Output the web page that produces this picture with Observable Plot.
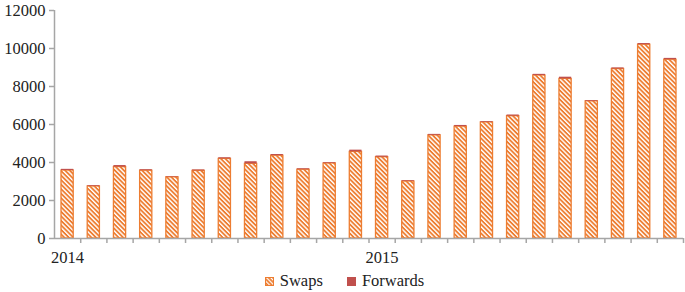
<!DOCTYPE html>
<html>
<head>
<meta charset="utf-8">
<script src="https://cdn.jsdelivr.net/npm/d3@7"></script>
<script src="https://cdn.jsdelivr.net/npm/@observablehq/plot@0.6"></script>
<style>
  body { margin: 0; background: #fff; }
  #chart { width: 685px; }
  .legend { display: flex; justify-content: center; align-items: center; font-family: "Liberation Serif", "Times New Roman", serif; font-size: 16.5px; color: #222; height: 22px; margin-top: 0px; padding-left: 4px; }
  .item { display: flex; align-items: center; margin: 0 12px; }
  .sw { width: 9px; height: 9px; margin-right: 6px; }
</style>
</head>
<body>
<div id="chart"></div>
<script>
const months = ["2014-01","2014-02","2014-03","2014-04","2014-05","2014-06","2014-07","2014-08","2014-09","2014-10","2014-11","2014-12",
                "2015-01","2015-02","2015-03","2015-04","2015-05","2015-06","2015-07","2015-08","2015-09","2015-10","2015-11","2015-12"];
const swaps = [3580, 2740, 3760, 3570, 3220, 3560, 4190, 3930, 4360, 3620, 3950, 4560,
               4280, 3000, 5430, 5890, 6110, 6440, 8580, 8400, 7220, 8920, 10200, 9410];
const forwards = [60, 40, 80, 50, 30, 50, 60, 110, 60, 50, 40, 90,
                  60, 40, 50, 60, 40, 60, 60, 90, 40, 60, 60, 70];
const yearLabels = ["2014", "2015"];
const yTicks = [0, 2000, 4000, 6000, 8000, 10000, 12000];

const orange = "#ED7D31";
const red = "#C0504D";
const axisGray = "#a6a6a6";

const table = months.map((m, i) => ({month: m, i, swaps: swaps[i], forwards: forwards[i]}));
const yearTable = yearLabels.map(y => ({label: y, i: months.indexOf(y + "-01")}));
const boundaries = d3.range(1, months.length + 1);

const chart = Plot.plot({
  width: 685,
  height: 270,
  marginLeft: 54,
  marginRight: 2,
  marginTop: 10,
  marginBottom: 32,
  style: {fontFamily: "'Liberation Serif', 'Times New Roman', serif", fontSize: "16.5px", color: "#222", background: "#fff"},
  x: {domain: [0, months.length], axis: null},
  y: {domain: [0, 12000], axis: null},
  marks: [
    Plot.rectY(table, {x1: "i", x2: d => d.i + 1, y: "swaps", insetLeft: 7, insetRight: 7, fill: "url(#hatch)", stroke: orange, strokeWidth: 1.3}),
    Plot.rectY(table, {x1: "i", x2: d => d.i + 1, y1: "swaps", y2: d => d.swaps + d.forwards, insetLeft: 7, insetRight: 7, fill: red}),
    Plot.ruleY([0], {stroke: axisGray, strokeWidth: 1.5}),
    Plot.ruleX([0], {stroke: axisGray, strokeWidth: 1.5}),
    Plot.axisY({ticks: yTicks, tickFormat: "d", tickSize: 5, tickPadding: 4, stroke: axisGray, strokeWidth: 1.5, label: null, fill: "#222", fontSize: 16.5}),
    Plot.axisX({ticks: boundaries, tickFormat: () => "", tickSize: 5, stroke: axisGray, strokeWidth: 1.5, label: null}),
    Plot.text(yearTable, {x: d => d.i + 0.5, y: 0, text: "label", dy: 19, fill: "#222", fontSize: 16.5})
  ]
});

// hatch pattern definition
const ns = "http://www.w3.org/2000/svg";
const defs = document.createElementNS(ns, "defs");
defs.innerHTML = `<pattern id="hatch" patternUnits="userSpaceOnUse" width="3.2" height="3.2" patternTransform="rotate(-45)">
  <rect width="3.2" height="3.2" fill="${orange}"></rect>
  <rect x="0" y="0" width="1.4" height="3.2" fill="#ffffff"></rect>
</pattern>
<pattern id="hatch2" patternUnits="userSpaceOnUse" width="3" height="3" patternTransform="rotate(-45)">
  <rect width="3" height="3" fill="${orange}"></rect>
  <rect x="0" y="0" width="1.2" height="3" fill="#ffffff"></rect>
</pattern>`;
chart.insertBefore(defs, chart.firstChild);
document.getElementById("chart").appendChild(chart);

const legend = document.createElement("div");
legend.className = "legend";
legend.innerHTML = `<div class="item"><svg class="sw" viewBox="0 0 9 9"><rect x="0.5" y="0.5" width="8" height="8" fill="url(#hatch2)" stroke="${orange}"></rect></svg><span>Swaps</span></div>
<div class="item"><svg class="sw" viewBox="0 0 9 9"><rect width="9" height="9" fill="${red}"></rect></svg><span>Forwards</span></div>`;
document.getElementById("chart").appendChild(legend);
</script>
</body>
</html>
